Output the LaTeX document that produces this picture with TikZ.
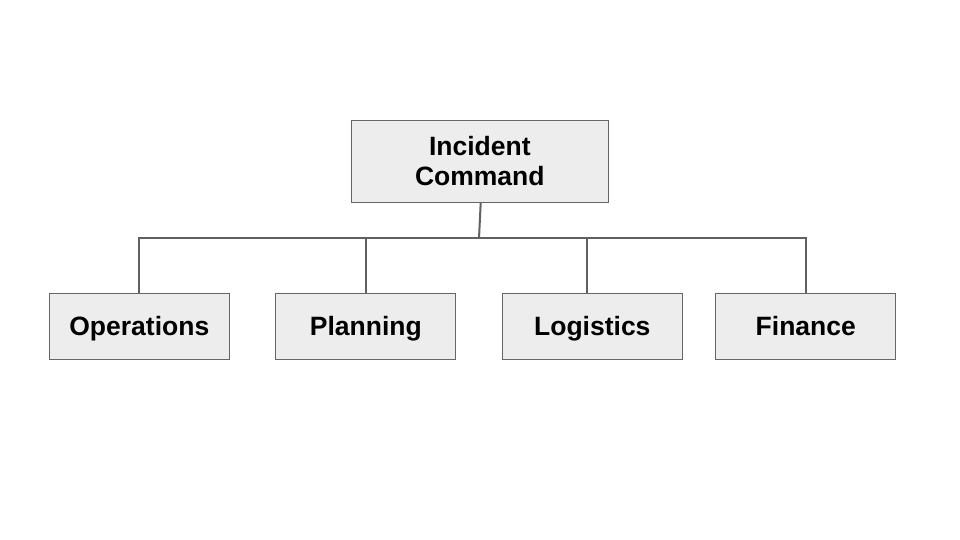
\documentclass[tikz,border=0pt]{standalone}
\usepackage{fontspec}
\setmainfont{Liberation Sans}
\begin{document}
\begin{tikzpicture}[x=1pt,y=-1pt,
  box/.style={draw=black!60, fill=black!7, line width=1.2pt, inner sep=0pt,
    font=\fontsize{26.5}{30.5}\selectfont\bfseries, align=center},
  subbox/.style={box, minimum width=180pt, minimum height=66pt,
    text height=19pt, text depth=0pt},
  link/.style={draw=black!62, line width=2pt}]
\useasboundingbox (0,0) rectangle (960,540);
\node[box, minimum width=257pt, minimum height=82pt] (ic) at (479.8,161.2) {Incident\\Command};
\node[subbox] (ops) at (139.3,326.2) {Operations};
\node[subbox] (pln) at (365.8,326.2) {Planning};
\node[subbox] (lgs) at (592.3,326.2) {Logistics};
\node[subbox] (fin) at (805.8,326.2) {Finance};
\coordinate (j) at (479,238.3);
\draw[link] ([xshift=0.9pt]ic.south) -- (j);
\draw[link] (ops.north) -- (ops.north |- j) -- (fin.north |- j) -- (fin.north);
\draw[link] (pln.north) -- (pln.north |- j);
\draw[link] ([xshift=-5.6pt]lgs.north) -- ([xshift=-5.6pt]lgs.north |- j);
\end{tikzpicture}
\end{document}
